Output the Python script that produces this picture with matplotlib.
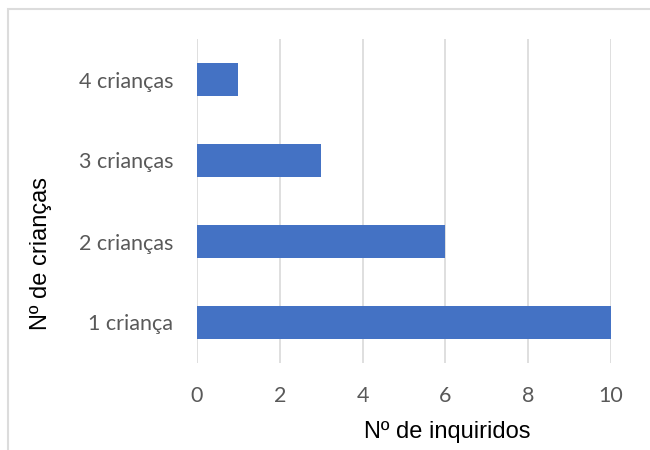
import matplotlib.pyplot as plt
from matplotlib.patches import Rectangle

categorias = ["1 criança", "2 crianças", "3 crianças", "4 crianças"]
inquiridos = [10, 6, 3, 1]
ticks_x = [0, 2, 4, 6, 8, 10]

azul = "#4472C4"
cinza_texto = "#595959"
cinza_grelha = "#d9d9d9"

fig = plt.figure(figsize=(6.5, 4.5), dpi=100)
ax = fig.add_axes([197 / 650, 1 - 363 / 450, 414 / 650, 324 / 450])

posicoes = range(len(categorias))
ax.barh(posicoes, inquiridos, height=0.4, color=azul, zorder=3)

ax.set_xlim(0, 10)
ax.set_ylim(-0.5, len(categorias) - 0.5)
ax.set_xticks(ticks_x)
ax.set_yticks(list(posicoes))
ax.set_yticklabels(categorias)

for s in ax.spines.values():
    s.set_visible(False)
ax.tick_params(length=0, labelsize=15.5, colors=cinza_texto)
ax.tick_params(axis="x", pad=16.5)
ax.tick_params(axis="y", pad=17)
for lbl in ax.get_xticklabels() + ax.get_yticklabels():
    lbl.set_fontfamily("Lato")
ax.grid(axis="x", color=cinza_grelha, linewidth=1.2, zorder=0)

# titulos dos eixos, fora do centro como no Excel
fig.text(447 / 650, 1 - 432 / 450, "Nº de inquiridos", ha="center", va="center",
         fontsize=17, family="Liberation Sans", color="black")
fig.text(41 / 650, 1 - 254 / 450, "Nº de crianças", ha="center", va="center",
         rotation=90, fontsize=17, family="Liberation Sans", color="black")

# moldura da area do grafico
fig.patches.append(Rectangle((8 / 650, -0.1), 1.2, 1 - 9 / 450 + 0.1,
                             transform=fig.transFigure, fill=False,
                             edgecolor="#dcdcdc", linewidth=1.5))

fig.savefig("out.png", dpi=100)
